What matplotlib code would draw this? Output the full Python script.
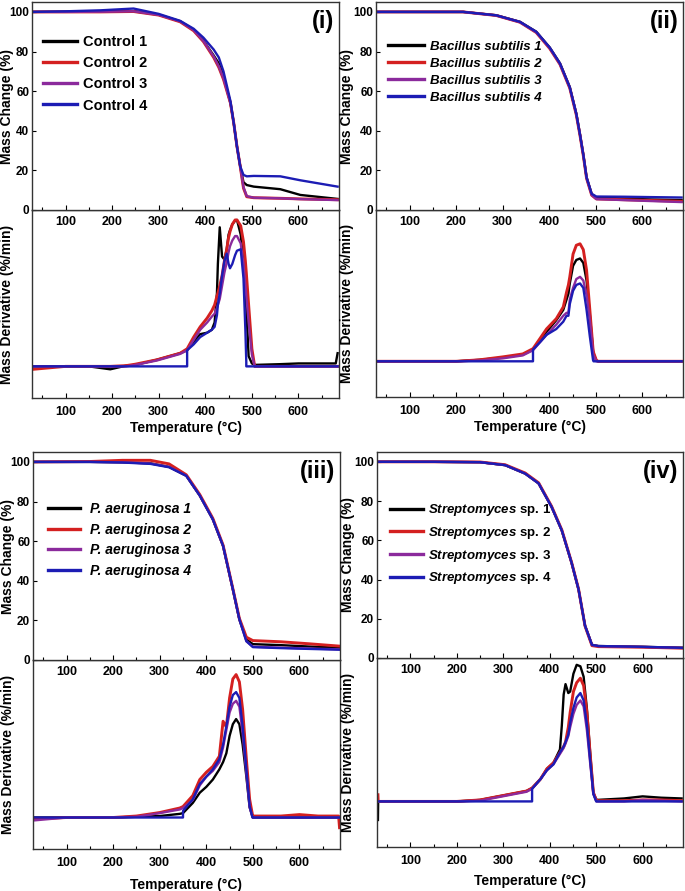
import matplotlib
matplotlib.use('Agg')
import matplotlib.pyplot as plt
from matplotlib.ticker import MultipleLocator

plt.rcParams['font.family'] = ['Liberation Sans', 'DejaVu Sans']
plt.rcParams['font.weight'] = 'bold'
plt.rcParams['axes.labelweight'] = 'bold'
plt.rcParams['mathtext.fontset'] = 'custom'
plt.rcParams['mathtext.bfit'] = 'Liberation Sans:bold:italic'
plt.rcParams['mathtext.rm'] = 'Liberation Sans:bold'

colors = ['#000000', '#d42020', '#8b2a9c', '#1c1cb4']

# ---- (i) Control ----
labels_i = ['Control 1', 'Control 2', 'Control 3', 'Control 4']
tga_T_i = [30, 100, 175, 246, 300, 346, 375, 396, 418, 429, 439, 454, 461, 468, 475, 482, 489, 504, 561, 604, 684]
tga_i = [
    [100, 100.1, 100.3, 100.4, 98.6, 95.3, 91, 85.5, 78, 74, 68, 54, 44, 32, 22, 14, 12.6, 11.8, 10.5, 7.6, 5.6],
    [100, 100, 100, 100.2, 98.4, 95, 90.5, 85, 77, 72, 66, 54, 44, 32, 22, 11, 6.7, 6.2, 5.9, 5.6, 5.2],
    [100, 100, 100.1, 100.3, 98.5, 95.2, 90.8, 85.3, 77.5, 72.5, 66.5, 54, 44, 32, 22, 11.5, 7, 6.2, 5.9, 5.5, 5.0],
    [100, 100.3, 100.8, 101.7, 99, 95.5, 91.5, 87, 81, 77, 70, 55, 44, 32, 22, 17.7, 17, 17.2, 17, 15, 11.8],
]
dtg_T_i = [30, 100, 150, 196, 230, 250, 296, 346, 361, 361, 375, 389, 404, 414, 420, 425, 427, 431, 436, 441,
           446, 450, 453, 458, 464, 468, 476, 482, 486, 488, 488, 493, 500, 506, 560, 600, 640, 680, 684]
dtg_i = [
    [0, 0, 0, -0.02, 0.005, 0.01, 0.045, 0.09, 0.11, 0.11, 0.17, 0.22, 0.23, 0.25, 0.3, 0.5, 0.7, 0.95, 0.75, 0.73,
     0.8, 0.9, 0.93, 0.97, 0.995, 1.0, 0.9, 0.7, 0.5, 0.4, 0.4, 0.07, 0.02, 0.01, 0.015, 0.02, 0.02, 0.02, 0.09],
    [-0.02, 0, 0, 0, 0.005, 0.015, 0.045, 0.09, 0.12, 0.12, 0.2, 0.27, 0.33, 0.38, 0.42, 0.48, 0.5, 0.55, 0.62, 0.72,
     0.8, 0.88, 0.92, 0.97, 1.0, 1.0, 0.96, 0.85, 0.72, 0.64, 0.64, 0.42, 0.12, 0.0, 0, 0, 0, 0, 0],
    [0, 0, 0, 0, 0, 0.01, 0.04, 0.085, 0.11, 0.11, 0.18, 0.25, 0.3, 0.34, 0.36, 0.4, 0.42, 0.46, 0.55, 0.64,
     0.71, 0.78, 0.82, 0.86, 0.89, 0.89, 0.84, 0.7, 0.55, 0.48, 0.48, 0.3, 0.08, 0, 0, 0, 0, 0, 0],
    [0, 0, 0, 0, 0, 0, 0, 0, 0, 0.11, 0.15, 0.2, 0.23, 0.25, 0.27, 0.35, 0.42, 0.5, 0.62, 0.72,
     0.77, 0.7, 0.67, 0.7, 0.76, 0.79, 0.8, 0.6, 0.25, 0.03, 0, 0, 0, 0, 0, 0, 0, 0, 0],
]

# ---- (ii) Bacillus subtilis ----
labels_ii = ['Bacillus subtilis 1', 'Bacillus subtilis 2', 'Bacillus subtilis 3', 'Bacillus subtilis 4']
tga_T_ii = [30, 150, 215, 286, 337, 372, 401, 423, 444, 458, 466, 473, 480, 491, 501, 560, 620, 684]
tga_ii = [
    [100, 100, 100, 98.3, 95, 90, 82, 74, 62, 48.6, 38, 28, 16.5, 8, 6.3, 5.8, 5.3, 5.0],
    [100, 100, 100, 98.2, 94.8, 89.6, 81.5, 73.5, 61.5, 48, 37.5, 27.5, 16, 7.5, 5.6, 5.2, 4.8, 4.4],
    [100, 100, 100, 98.2, 94.8, 89.7, 81.7, 73.6, 61.7, 48.3, 37.8, 27.7, 16.2, 7.6, 5.5, 5.0, 4.5, 4.0],
    [100, 100, 100, 98.3, 95, 90, 82, 74, 62, 48.6, 38, 28, 16.5, 8.2, 6.8, 6.7, 6.5, 6.3],
]
dtg_T_ii = [30, 100, 200, 250, 300, 343, 365, 365, 380, 394, 415, 430, 437, 441, 444, 451, 458, 466, 473, 480,
            487, 494, 495, 501, 505, 560, 620, 684]
dtg_ii = [
    [0, 0, 0, 0.01, 0.025, 0.045, 0.08, 0.08, 0.14, 0.2, 0.28, 0.35, 0.42, 0.46, 0.53, 0.65, 0.69, 0.70, 0.67, 0.55,
     0.32, 0.07, 0.05, 0.005, 0, 0, 0, 0],
    [0, 0, 0, 0.01, 0.03, 0.05, 0.086, 0.086, 0.155, 0.22, 0.29, 0.37, 0.47, 0.52, 0.575, 0.73, 0.79, 0.80, 0.76, 0.62,
     0.35, 0.075, 0.06, 0.007, 0, 0, 0, 0],
    [0, 0, 0, 0.005, 0.02, 0.04, 0.075, 0.075, 0.13, 0.18, 0.25, 0.31, 0.33, 0.33, 0.42, 0.5, 0.56, 0.575, 0.55, 0.45,
     0.28, 0.05, 0.04, 0, 0, 0, 0, 0],
    [0, 0, 0, 0, 0, 0, 0, 0.08, 0.13, 0.18, 0.22, 0.27, 0.31, 0.31, 0.39, 0.48, 0.52, 0.53, 0.50, 0.35,
     0.17, 0.007, 0, 0, 0, 0, 0, 0],
]

# ---- (iii) P. aeruginosa ----
labels_iii = ['P. aeruginosa 1', 'P. aeruginosa 2', 'P. aeruginosa 3', 'P. aeruginosa 4']
tga_T_iii = [30, 150, 220, 280, 320, 357, 386, 414, 436, 457, 471, 486, 500, 560, 620, 686]
tga_iii = [
    [100, 100, 99.8, 99.3, 97.5, 93, 83, 71, 57.6, 35.7, 20.5, 10.4, 8, 7.5, 6.8, 6.2],
    [100, 100.2, 100.8, 100.8, 99, 93.5, 83.5, 71.5, 58, 36, 21, 11.5, 9.8, 9.2, 8.2, 7],
    [100, 100, 99.8, 99.2, 97.5, 93, 83, 71, 57.6, 35.7, 20.5, 9.5, 6.7, 6.2, 5.8, 5.4],
    [100, 100, 99.7, 99, 97.3, 93, 83, 71, 57.6, 35.7, 20.5, 9.5, 6.5, 6.0, 5.6, 5.2],
]
dtg_T_iii = [30, 100, 200, 250, 300, 343, 350, 350, 371, 386, 400, 414, 428, 436, 443, 450, 457, 464, 471, 478,
             486, 493, 499, 500, 560, 600, 640, 684, 686]
dtg_iii = [
    [0, 0, 0, 0.005, 0.01, 0.025, 0.03, 0.03, 0.1, 0.17, 0.21, 0.26, 0.33, 0.38, 0.44, 0.56, 0.64, 0.675, 0.64, 0.5,
     0.28, 0.07, 0.01, 0, 0, 0, 0, 0, 0],
    [-0.01, 0, 0, 0.01, 0.034, 0.065, 0.075, 0.075, 0.15, 0.26, 0.31, 0.35, 0.42, 0.66, 0.62, 0.82, 0.95, 0.98, 0.93, 0.74,
     0.40, 0.125, 0.02, 0.01, 0.01, 0.02, 0.01, 0.01, -0.07],
    [-0.02, 0, 0, 0.005, 0.03, 0.055, 0.065, 0.065, 0.12, 0.22, 0.28, 0.32, 0.38, 0.48, 0.6, 0.72, 0.78, 0.80, 0.76, 0.58,
     0.30, 0.07, 0.005, 0, 0, 0, 0, 0, 0],
    [0, 0, 0, 0, 0, 0, 0, 0.045, 0.125, 0.23, 0.28, 0.33, 0.40, 0.5, 0.625, 0.76, 0.84, 0.86, 0.82, 0.625,
     0.33, 0.08, 0.0, 0, 0, 0, 0, 0, 0],
]

# ---- (iv) Streptomyces sp. ----
labels_iv = [r'$\mathbfit{Streptomyces}$ sp. 1', r'$\mathbfit{Streptomyces}$ sp. 2',
             r'$\mathbfit{Streptomyces}$ sp. 3', r'$\mathbfit{Streptomyces}$ sp. 4']
tga_T_iv = [30, 150, 250, 304, 347, 376, 404, 426, 447, 462, 476, 491, 505, 600, 688]
tga_iv = [
    [100, 100, 99.8, 98.3, 94, 89, 77, 65, 48.6, 35, 16.5, 6.7, 6.1, 5.7, 5.2],
    [100, 100, 99.9, 98.5, 94.3, 89.3, 77.3, 65.3, 48.8, 35.2, 16.3, 6.3, 5.8, 5.5, 5.0],
    [100, 100, 99.8, 98.3, 94, 89, 77, 65, 48.6, 35, 16.5, 6.6, 6.0, 5.6, 5.1],
    [100, 100, 99.8, 98.3, 94, 89, 77, 65, 48.6, 35, 16.5, 6.7, 6.1, 5.7, 5.2],
]
dtg_T_iv = [30, 30.5, 100, 200, 250, 300, 350, 362, 362, 380, 394, 408, 422, 426, 430, 434, 440, 444, 451, 458,
            466, 473, 480, 487, 494, 500, 501, 560, 600, 640, 684]
dtg_iv = [
    [-0.125, 0, 0, 0, 0.01, 0.04, 0.07, 0.09, 0.09, 0.15, 0.22, 0.26, 0.35, 0.51, 0.72, 0.79, 0.73, 0.74, 0.86, 0.92,
     0.91, 0.84, 0.625, 0.33, 0.057, 0.015, 0.01, 0.02, 0.034, 0.025, 0.02],
    [0.045, 0, 0, 0, 0.01, 0.04, 0.07, 0.09, 0.09, 0.15, 0.22, 0.26, 0.33, 0.35, 0.37, 0.4, 0.5, 0.6, 0.74, 0.80,
     0.83, 0.78, 0.6, 0.32, 0.06, 0.01, 0.005, 0.005, 0.01, 0.01, 0.005],
    [0, 0, 0, 0, 0.005, 0.035, 0.065, 0.085, 0.085, 0.15, 0.21, 0.25, 0.32, 0.34, 0.36, 0.39, 0.44, 0.5, 0.59, 0.65,
     0.68, 0.64, 0.48, 0.26, 0.05, 0.005, 0, 0, 0.01, 0.005, 0],
    [0, 0, 0, 0, 0, 0, 0, 0, 0.085, 0.15, 0.21, 0.25, 0.33, 0.35, 0.37, 0.40, 0.45, 0.53, 0.63, 0.70,
     0.73, 0.68, 0.52, 0.28, 0.05, 0, 0, 0, 0, 0, 0],
]

W, H = 685, 891
fig = plt.figure(figsize=(W / 100, H / 100), dpi=100)


def box(x0, y0, x1, y1):
    # pixel box (from top-left) -> figure fraction
    return [x0 / W, 1 - y1 / H, (x1 - x0) / W, (y1 - y0) / H]


panels = [
    dict(tag='(i)', labels=labels_i, tT=tga_T_i, tga=tga_i, dT=dtg_T_i, dtg=dtg_i,
         xs=(32, 339), yt=(2, 210), yd=(210, 398), dlim=(-0.216, 1.068),
         lfont=dict(size=10.5), lpos=(0.036, 0.843), hl=2.35, htp=0.4, ls=0.5, ylx=-0.06, xlp=2),
    dict(tag='(ii)', labels=labels_ii, tT=tga_T_ii, tga=tga_ii, dT=dtg_T_ii, dtg=dtg_ii,
         xs=(376, 683), yt=(2, 210), yd=(210, 397), dlim=(-0.243, 1.03),
         lfont=dict(size=9.5, style='italic'), lpos=(0.039, 0.815), hl=2.7, htp=0.45, ls=0.36, ylx=-0.072, xlp=2),
    dict(tag='(iii)', labels=labels_iii, tT=tga_T_iii, tga=tga_iii, dT=dtg_T_iii, dtg=dtg_iii,
         xs=(33, 340), yt=(452, 660), yd=(660, 849), dlim=(-0.216, 1.08),
         lfont=dict(size=10, style='italic'), lpos=(0.049, 0.76), hl=2.3, htp=0.7, ls=0.48, ylx=-0.06, xlp=6),
    dict(tag='(iv)', labels=labels_iv, tT=tga_T_iv, tga=tga_iv, dT=dtg_T_iv, dtg=dtg_iv,
         xs=(377, 683), yt=(452, 658), yd=(658, 847), dlim=(-0.307, 0.966),
         lfont=dict(size=9.5), lpos=(0.042, 0.755), hl=2.5, htp=0.4, ls=0.5, ylx=-0.072, xlp=4.5),
]

for p in panels:
    xs = p['xs']
    ax_t = fig.add_axes(box(xs[0], p['yt'][0], xs[1], p['yt'][1]))
    ax_d = fig.add_axes(box(xs[0], p['yd'][0], xs[1], p['yd'][1]), facecolor='none')
    ax_t.set_zorder(3)

    for k in range(4):
        lw = 2.1 if k == 1 else 1.7
        ax_t.plot(p['tT'], p['tga'][k], color=colors[k], lw=lw, label=p['labels'][k])
        ax_d.plot(p['dT'], p['dtg'][k], color=colors[k], lw=lw)

    for ax in (ax_t, ax_d):
        ax.set_xlim(28, 687)
        ax.xaxis.set_major_locator(MultipleLocator(100))
        ax.xaxis.set_minor_locator(MultipleLocator(50))
        ax.tick_params(axis='x', which='both', direction='in', length=3.5, width=0.8, labelsize=9)
        ax.tick_params(axis='x', which='minor', length=2)
        for s in ax.spines.values():
            s.set_color('#333333')
            s.set_linewidth(1.0)
    ax_t.tick_params(axis='x', pad=4)
    ax_d.tick_params(axis='x', pad=6)

    ax_t.set_ylim(0, 105)
    ax_t.set_yticks([0, 20, 40, 60, 80, 100])
    ax_t.tick_params(axis='y', direction='in', length=3, width=0.8, pad=2, labelsize=8.5)
    ax_t.set_ylabel('Mass Change (%)', fontsize=10)
    ax_t.yaxis.set_label_coords(p['ylx'], 0.5)

    ax_d.set_ylim(*p['dlim'])
    ax_d.set_yticks([])
    ax_d.set_ylabel('Mass Derivative (%/min)', fontsize=10)
    ax_d.yaxis.set_label_coords(p['ylx'], 0.5)
    ax_d.set_xlabel('Temperature (°C)', fontsize=10, labelpad=p['xlp'])

    ax_t.text(0.985, 0.905, p['tag'], transform=ax_t.transAxes, ha='right', va='center', fontsize=17)

    leg = ax_t.legend(loc='upper left', bbox_to_anchor=p['lpos'], frameon=False, borderpad=0, borderaxespad=0,
                      handlelength=p['hl'], handletextpad=p['htp'], labelspacing=p['ls'],
                      prop=dict(weight='bold', **p['lfont']))
    for h in leg.legend_handles:
        h.set_linewidth(2.4)

fig.savefig('out.png', dpi=100)
